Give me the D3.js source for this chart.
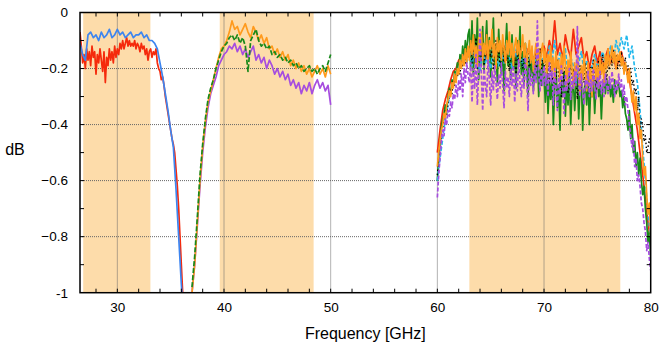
<!DOCTYPE html>
<html>
<head>
<meta charset="utf-8">
<script src="https://cdn.jsdelivr.net/npm/d3@7"></script>
<style>
  body { margin: 0; background: #fff; }
  text { font-family: "Liberation Sans", Arial, sans-serif; }
</style>
</head>
<body>
<div id="chart"></div>
<script>
const frame_width = 664;
const frame_height = 348;
const margins = {left: 80, right: 13.3, top: 12.5, bottom: 55.3};

// shaded bands [GHz]
const bands = [[26.8, 33.1], [39.6, 48.4], [63.0, 77.15]];

const xMajor = [30, 40, 50, 60, 70, 80];
const yMajor = [0, -0.2, -0.4, -0.6, -0.8, -1];

// low band, 26.5 GHz upwards
const blueStart = 26.5, blueStep = 0.25;
const blue = [-0.11, -0.15, -0.17, -0.08, -0.07, -0.09, -0.08, -0.10, -0.07, -0.09,
  -0.08, -0.06, -0.09, -0.08, -0.06, -0.08, -0.07, -0.09, -0.08, -0.07,
  -0.09, -0.08, -0.08, -0.07, -0.09, -0.08, -0.10, -0.10, -0.11, -0.13,
  -0.18, -0.23, -0.29, -0.35, -0.42, -0.48, -0.63, -0.80, -0.97, -1.1];
// one row per GHz (step 0.125)
const redStart = 26.5, redStep = 0.125;
const red = [
  -0.07, -0.12, -0.18, -0.15, -0.20, -0.13, -0.17, -0.14,
  -0.19, -0.12, -0.16, -0.14, -0.22, -0.15, -0.18, -0.13,
  -0.17, -0.21, -0.14, -0.25, -0.16, -0.19, -0.13, -0.17,
  -0.14, -0.18, -0.12, -0.16, -0.13, -0.15, -0.11, -0.13,
  -0.10, -0.13, -0.11, -0.09, -0.12, -0.10, -0.12, -0.11,
  -0.12, -0.10, -0.13, -0.11, -0.12, -0.14, -0.11, -0.13,
  -0.12, -0.15, -0.13, -0.17, -0.14, -0.13, -0.16, -0.14,
  -0.15, -0.13, -0.18, -0.20, -0.21, -0.24, -0.23, -0.26,
  -0.30, -0.33, -0.36, -0.39, -0.42, -0.45, -0.47, -0.50,
  -0.56, -0.62, -0.70, -0.80, -0.90, -1.00, -1.10, -1.10];

// mid band, 37 GHz, step 0.25
const midStart = 37, midStep = 0.25;
const midOrange = [-1.0, -0.9, -0.75, -0.6, -0.48, -0.39, -0.32, -0.28, -0.24, -0.2,
  -0.16, -0.13, -0.12, -0.10, -0.07, -0.03, -0.06, -0.05, -0.08, -0.06,
  -0.04, -0.07, -0.09, -0.05, -0.07, -0.10, -0.08, -0.11, -0.09, -0.13,
  -0.12, -0.15, -0.13, -0.16, -0.14, -0.17, -0.15, -0.19, -0.17, -0.20,
  -0.18, -0.21, -0.19, -0.22, -0.20, -0.23, -0.21, -0.19, -0.22, -0.20,
  -0.23, -0.19, -0.22];
const midGreen = [-0.98, -0.87, -0.73, -0.58, -0.47, -0.38, -0.31, -0.27, -0.24, -0.2,
  -0.17, -0.14, -0.12, -0.11, -0.09, -0.08, -0.10, -0.08, -0.11, -0.09,
  -0.12, -0.21, -0.10, -0.08, -0.06, -0.10, -0.12, -0.11, -0.13, -0.12,
  -0.15, -0.14, -0.16, -0.15, -0.17, -0.16, -0.18, -0.17, -0.19, -0.18,
  -0.20, -0.19, -0.21, -0.20, -0.19, -0.21, -0.20, -0.22, -0.20, -0.19,
  -0.21, -0.18, -0.15];
const midPurple = [-1.0, -0.9, -0.76, -0.62, -0.5, -0.41, -0.34, -0.29, -0.26, -0.23,
  -0.19, -0.17, -0.15, -0.14, -0.12, -0.13, -0.11, -0.14, -0.12, -0.15,
  -0.13, -0.16, -0.14, -0.12, -0.17, -0.15, -0.18, -0.16, -0.20, -0.17,
  -0.19, -0.22, -0.20, -0.23, -0.21, -0.24, -0.22, -0.26, -0.24, -0.27,
  -0.25, -0.29, -0.26, -0.28, -0.25, -0.29, -0.26, -0.24, -0.27, -0.25,
  -0.28, -0.26, -0.33];

// high band, 60 GHz, step 0.25
const hiStart = 60, hiStep = 0.25;
const hiRed = [-0.5, -0.42, -0.35, -0.31, -0.28, -0.24, -0.21, -0.2, -0.17, -0.16, -0.14, -0.15,
  -0.16, -0.12, -0.18, -0.14, -0.15, -0.11, -0.17, -0.13, -0.16, -0.12, -0.18, -0.14, -0.15, -0.12,
  -0.17, -0.13, -0.15, -0.18, -0.12, -0.16, -0.14, -0.17, -0.13, -0.15, -0.19, -0.14, -0.16, -0.13,
  -0.12, -0.16, -0.10, -0.14, -0.03, -0.15, -0.11, -0.17, -0.08, -0.13, -0.16, -0.06, -0.15, -0.12,
  -0.09, -0.17, -0.14, -0.2, -0.15, -0.12, -0.18, -0.14, -0.2, -0.16, -0.13, -0.18, -0.15, -0.2, -0.17,
  -0.14, -0.18, -0.2, -0.24, -0.3, -0.36, -0.42, -0.5, -0.58, -0.66, -0.75, -0.82];
const hiCyan = [-0.6, -0.52, -0.45, -0.38, -0.33, -0.28, -0.25, -0.22, -0.2, -0.17, -0.15, -0.18,
  -0.14, -0.19, -0.12, -0.17, -0.21, -0.13, -0.18, -0.15, -0.2, -0.12, -0.16, -0.19, -0.14, -0.18,
  -0.11, -0.16, -0.2, -0.13, -0.17, -0.15, -0.19, -0.12, -0.18, -0.14, -0.2, -0.16, -0.13, -0.18,
  -0.15, -0.19, -0.12, -0.17, -0.1, -0.2, -0.14, -0.18, -0.13, -0.22, -0.16, -0.19, -0.25, -0.18,
  -0.14, -0.21, -0.17, -0.23, -0.19, -0.15, -0.2, -0.17, -0.14, -0.19, -0.16, -0.12, -0.18, -0.1, -0.14,
  -0.09, -0.13, -0.08, -0.16, -0.12, -0.2, -0.25, -0.35, -0.48, -0.6, -0.72, -0.8];

// high band, 60 GHz, step 0.125, one row per GHz
const fineStart = 60, fineStep = 0.125;
const hiGreen = [
  -0.60, -0.52, -0.47, -0.41, -0.38, -0.36, -0.33, -0.35,
  -0.30, -0.27, -0.29, -0.24, -0.26, -0.21, -0.23, -0.18,
  -0.21, -0.15, -0.19, -0.12, -0.17, -0.10, -0.15, -0.08,
  -0.06, -0.20, -0.03, -0.22, -0.08, -0.16, -0.02, -0.24,
  -0.10, -0.19, -0.05, -0.21, -0.12, -0.03, -0.18, -0.09,
  -0.23, -0.14, -0.02, -0.20, -0.12, -0.25, -0.06, -0.17,
  -0.22, -0.10, -0.28, -0.14, -0.04, -0.19, -0.12, -0.24,
  -0.08, -0.20, -0.15, -0.27, -0.10, -0.18, -0.05, -0.22,
  -0.14, -0.26, -0.11, -0.19, -0.30, -0.16, -0.23, -0.13,
  -0.28, -0.18, -0.24, -0.14, -0.30, -0.20, -0.26, -0.17,
  -0.23, -0.32, -0.20, -0.36, -0.25, -0.31, -0.22, -0.40,
  -0.27, -0.19, -0.34, -0.26, -0.42, -0.24, -0.30, -0.21,
  -0.37, -0.25, -0.33, -0.22, -0.40, -0.28, -0.24, -0.35,
  -0.26, -0.22, -0.38, -0.27, -0.24, -0.42, -0.28, -0.25,
  -0.33, -0.22, -0.40, -0.27, -0.30, -0.24, -0.36, -0.26,
  -0.22, -0.30, -0.25, -0.38, -0.27, -0.23, -0.29, -0.24,
  -0.28, -0.25, -0.30, -0.26, -0.32, -0.24, -0.29, -0.27,
  -0.25, -0.30, -0.28, -0.34, -0.30, -0.36, -0.38, -0.42,
  -0.35, -0.45, -0.40, -0.50, -0.46, -0.55, -0.50, -0.58,
  -0.52, -0.60, -0.65, -0.62, -0.70, -0.75, -0.82, -0.78,
  -0.88];
const hiOrange = [
  -0.55, -0.50, -0.46, -0.42, -0.40, -0.36, -0.38, -0.33,
  -0.31, -0.28, -0.30, -0.25, -0.27, -0.22, -0.25, -0.20,
  -0.22, -0.17, -0.20, -0.15, -0.19, -0.13, -0.18, -0.12,
  -0.17, -0.10, -0.15, -0.08, -0.16, -0.12, -0.19, -0.09,
  -0.14, -0.07, -0.17, -0.11, -0.15, -0.08, -0.18, -0.10,
  -0.13, -0.06, -0.16, -0.11, -0.20, -0.09, -0.14, -0.10,
  -0.17, -0.08, -0.13, -0.18, -0.10, -0.15, -0.07, -0.16,
  -0.11, -0.19, -0.12, -0.09, -0.15, -0.10, -0.17, -0.13,
  -0.08, -0.16, -0.11, -0.19, -0.14, -0.10, -0.18, -0.12,
  -0.21, -0.15, -0.11, -0.17, -0.13, -0.20, -0.14, -0.11,
  -0.18, -0.13, -0.22, -0.15, -0.19, -0.12, -0.21, -0.16,
  -0.24, -0.14, -0.20, -0.17, -0.25, -0.15, -0.21, -0.12,
  -0.19, -0.26, -0.17, -0.22, -0.14, -0.20, -0.27, -0.18,
  -0.23, -0.16, -0.21, -0.29, -0.19, -0.24, -0.15, -0.22,
  -0.28, -0.18, -0.25, -0.20, -0.30, -0.21, -0.17, -0.24,
  -0.19, -0.27, -0.16, -0.22, -0.18, -0.25, -0.15, -0.20,
  -0.13, -0.19, -0.16, -0.12, -0.18, -0.14, -0.20, -0.15,
  -0.17, -0.14, -0.19, -0.16, -0.22, -0.18, -0.21, -0.25,
  -0.20, -0.27, -0.32, -0.28, -0.35, -0.30, -0.40, -0.36,
  -0.45, -0.42, -0.52, -0.58, -0.55, -0.65, -0.72, -0.68,
  -0.80];
const hiPurple = [
  -0.66, -0.58, -0.52, -0.46, -0.42, -0.44, -0.38, -0.40,
  -0.35, -0.37, -0.32, -0.34, -0.29, -0.31, -0.26, -0.30,
  -0.24, -0.28, -0.22, -0.30, -0.20, -0.25, -0.18, -0.22,
  -0.25, -0.18, -0.32, -0.20, -0.27, -0.15, -0.33, -0.21,
  -0.06, -0.22, -0.35, -0.19, -0.26, -0.30, -0.17, -0.24,
  -0.33, -0.21, -0.28, -0.19, -0.25, -0.31, -0.22, -0.27,
  -0.18, -0.26, -0.34, -0.21, -0.27, -0.23, -0.30, -0.20,
  -0.26, -0.19, -0.32, -0.22, -0.28, -0.17, -0.25, -0.30,
  -0.21, -0.27, -0.16, -0.24, -0.35, -0.20, -0.26, -0.22,
  -0.29, -0.19, -0.25, -0.03, -0.22, -0.28, -0.20, -0.26,
  -0.19, -0.26, -0.22, -0.30, -0.18, -0.25, -0.21, -0.33,
  -0.20, -0.27, -0.35, -0.23, -0.29, -0.19, -0.26, -0.36,
  -0.22, -0.28, -0.25, -0.20, -0.31, -0.23, -0.27, -0.21,
  -0.26, -0.05, -0.24, -0.30, -0.22, -0.28, -0.33, -0.24,
  -0.27, -0.21, -0.30, -0.24, -0.28, -0.20, -0.26, -0.31,
  -0.23, -0.27, -0.21, -0.29, -0.24, -0.30, -0.22, -0.26,
  -0.29, -0.23, -0.27, -0.21, -0.25, -0.30, -0.24, -0.28,
  -0.22, -0.27, -0.24, -0.30, -0.26, -0.33, -0.30, -0.35,
  -0.40, -0.44, -0.48, -0.45, -0.55, -0.52, -0.60, -0.58,
  -0.62, -0.68, -0.70, -0.75, -0.78, -0.85, -0.82, -0.88,
  -0.92];
const hiBlack = [
  -0.58, -0.52, -0.47, -0.44, -0.41, -0.38, -0.35, -0.37,
  -0.32, -0.30, -0.27, -0.29, -0.24, -0.26, -0.22, -0.23,
  -0.20, -0.22, -0.17, -0.19, -0.15, -0.18, -0.14, -0.16,
  -0.15, -0.11, -0.18, -0.13, -0.16, -0.09, -0.20, -0.14,
  -0.10, -0.17, -0.12, -0.19, -0.15, -0.11, -0.18, -0.13,
  -0.16, -0.12, -0.20, -0.14, -0.10, -0.17, -0.13, -0.19,
  -0.15, -0.11, -0.18, -0.14, -0.12, -0.17, -0.21, -0.15,
  -0.13, -0.19, -0.16, -0.22, -0.14, -0.18, -0.12, -0.17,
  -0.20, -0.15, -0.12, -0.18, -0.14, -0.21, -0.16, -0.13,
  -0.19, -0.15, -0.22, -0.16, -0.18, -0.13, -0.20, -0.17,
  -0.20, -0.16, -0.23, -0.19, -0.25, -0.18, -0.21, -0.27,
  -0.20, -0.24, -0.17, -0.22, -0.26, -0.30, -0.21, -0.25,
  -0.19, -0.23, -0.29, -0.22, -0.18, -0.24, -0.20, -0.26,
  -0.22, -0.31, -0.24, -0.19, -0.27, -0.21, -0.25, -0.18,
  -0.23, -0.20, -0.26, -0.19, -0.24, -0.17, -0.22, -0.28,
  -0.20, -0.17, -0.23, -0.19, -0.15, -0.21, -0.18, -0.24,
  -0.17, -0.20, -0.15, -0.19, -0.13, -0.17, -0.15, -0.20,
  -0.16, -0.19, -0.14, -0.18, -0.20, -0.16, -0.22, -0.19,
  -0.23, -0.20, -0.26, -0.24, -0.29, -0.27, -0.35, -0.30,
  -0.42, -0.38, -0.40, -0.46, -0.44, -0.50, -0.48, -0.45,
  -0.47];

// draw order: first is at the back
const series = [
  {vals: red, start: redStart, step: redStep, color: "#f52a0c", dash: null, w: 1.7},
  {vals: blue, start: blueStart, step: blueStep, color: "#3d85f0", dash: null, w: 1.7},
  {vals: midPurple, start: midStart, step: midStep, color: "#a64ddf", dash: null, w: 1.7},
  {vals: midOrange, start: midStart, step: midStep, color: "#ff9a1c", dash: null, w: 1.7},
  {vals: midGreen, start: midStart, step: midStep, color: "#18891a", dash: "5,2", w: 1.7},
  {vals: hiRed, start: hiStart, step: hiStep, color: "#f52a0c", dash: null, w: 1.7},
  {vals: hiGreen, start: fineStart, step: fineStep, color: "#18891a", dash: null, w: 1.7},
  {vals: hiCyan, start: hiStart, step: hiStep, color: "#22b8ec", dash: "4,2", w: 1.7},
  {vals: hiBlack, start: fineStart, step: fineStep, color: "#000000", dash: "1.5,2.5", w: 1.4},
  {vals: hiOrange, start: fineStart, step: fineStep, color: "#ff9a1c", dash: null, w: 1.7},
  {vals: hiPurple, start: fineStart, step: fineStep, color: "#a64ddf", dash: "4,2", w: 1.7}
];

const W = frame_width - margins.left - margins.right;
const H = frame_height - margins.top - margins.bottom;

const svg = d3.select("#chart").append("svg")
    .attr("width", frame_width)
    .attr("height", frame_height);

const X_SCALE = d3.scaleLinear().domain([26.5, 80]).range([0, W]);
const Y_SCALE = d3.scaleLinear().domain([-1, 0]).range([H, 0]);

const plot = svg.append("g")
    .attr("transform", "translate(" + margins.left + "," + margins.top + ")");

svg.append("defs").append("clipPath").attr("id", "clip")
  .append("rect").attr("width", W).attr("height", H);

// bands
plot.selectAll(".band").data(bands).enter().append("rect")
    .attr("x", d => X_SCALE(d[0]))
    .attr("width", d => X_SCALE(d[1]) - X_SCALE(d[0]))
    .attr("y", 0).attr("height", H)
    .attr("fill", "#fddcaa");

// grid
const grid = plot.append("g").attr("stroke", "#666").attr("stroke-width", 1).attr("stroke-dasharray", "1,1");
grid.selectAll(".gx").data(xMajor.slice(0, -1)).enter().append("line")
    .attr("x1", d => X_SCALE(d)).attr("x2", d => X_SCALE(d))
    .attr("y1", 0).attr("y2", H);
grid.selectAll(".gy").data(yMajor.slice(1, -1)).enter().append("line")
    .attr("y1", d => Y_SCALE(d)).attr("y2", d => Y_SCALE(d))
    .attr("x1", 0).attr("x2", W);

// lines
const lines = plot.append("g").attr("clip-path", "url(#clip)");
series.forEach(s => {
  const line = d3.line()
      .x((d, i) => X_SCALE(s.start + i * s.step))
      .y(d => Y_SCALE(d));
  lines.append("path")
      .datum(s.vals)
      .attr("d", line)
      .attr("fill", "none")
      .attr("stroke", s.color)
      .attr("stroke-width", s.w)
      .attr("stroke-linejoin", "round")
      .attr("stroke-dasharray", s.dash);
});

// axes with inward ticks
const xMinor = d3.range(28, 80, 2);
const yMinor = d3.range(-0.9, 0, 0.1);

plot.append("g").attr("transform", "translate(0," + H + ")")
    .call(d3.axisBottom(X_SCALE).tickValues(xMajor).tickFormat(d3.format("d")).tickSize(0).tickPadding(10))
    .call(g => g.select(".domain").remove())
    .selectAll("text").attr("font-size", "13.5px").attr("font-family", "Liberation Sans, Arial, sans-serif").attr("fill", "#000");

plot.append("g")
    .call(d3.axisLeft(Y_SCALE).tickValues(yMajor).tickFormat(d => d === 0 ? "0" : d === -1 ? "-1" : d3.format(".1f")(d)).tickSize(0).tickPadding(12))
    .call(g => g.select(".domain").remove())
    .selectAll("text").attr("font-size", "13.5px").attr("font-family", "Liberation Sans, Arial, sans-serif").attr("fill", "#000");

const ticks = plot.append("g").attr("stroke", "#000").attr("stroke-width", 1);
xMinor.forEach(v => {
  ticks.append("line").attr("x1", X_SCALE(v)).attr("x2", X_SCALE(v)).attr("y1", H).attr("y2", H - 4);
  ticks.append("line").attr("x1", X_SCALE(v)).attr("x2", X_SCALE(v)).attr("y1", 0).attr("y2", 4);
});
yMinor.forEach(v => {
  ticks.append("line").attr("y1", Y_SCALE(v)).attr("y2", Y_SCALE(v)).attr("x1", 0).attr("x2", 4);
  ticks.append("line").attr("y1", Y_SCALE(v)).attr("y2", Y_SCALE(v)).attr("x1", W).attr("x2", W - 4);
});

// frame
plot.append("rect").attr("width", W).attr("height", H)
    .attr("fill", "none").attr("stroke", "#000").attr("stroke-width", 1.5);

// axis titles
svg.append("text")
    .attr("x", margins.left + W / 2)
    .attr("y", 339)
    .attr("text-anchor", "middle")
    .attr("font-size", "16px")
    .text("Frequency [GHz]");

svg.append("text")
    .attr("x", 15)
    .attr("y", 155)
    .attr("text-anchor", "middle")
    .attr("font-size", "16px")
    .text("dB");
</script>
</body>
</html>
